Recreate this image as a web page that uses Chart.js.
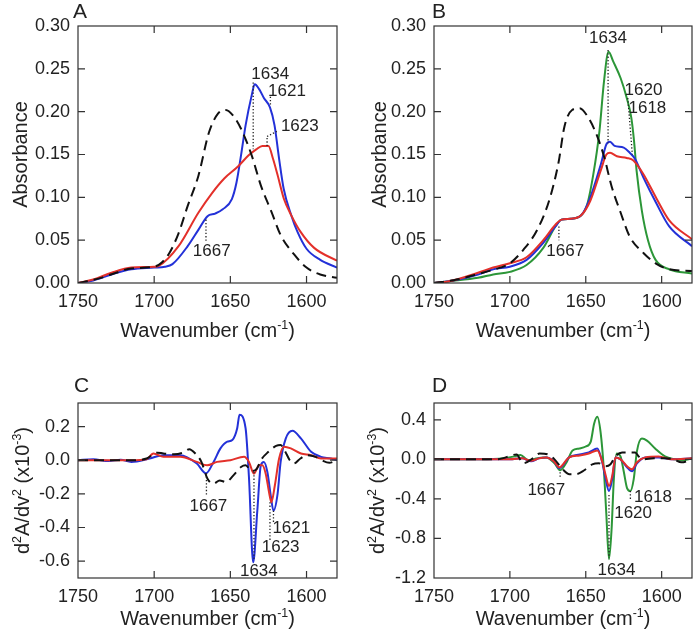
<!DOCTYPE html>
<html>
<head>
<meta charset="utf-8">
<script src="https://cdn.jsdelivr.net/npm/chart.js@4.4.1/dist/chart.umd.min.js"></script>
<style>
  body { margin: 0; background: #fff; }
  #wrap { position: relative; width: 693px; height: 634px; overflow: hidden; }
  canvas { position: absolute; }
</style>
</head>
<body>
<div id="wrap">
  <canvas id="chartA" width="345" height="350" style="left:0;top:0"></canvas>
  <canvas id="chartB" width="348" height="350" style="left:345px;top:0"></canvas>
  <canvas id="chartC" width="345" height="284" style="left:0;top:350px"></canvas>
  <canvas id="chartD" width="348" height="284" style="left:345px;top:350px"></canvas>
</div>
<script>
// ---- data (wavenumber in cm-1) ----
// A: absorbance
var aBlackX = [1750,1735,1725,1715,1700,1695,1690,1684,1678,1671,1664,1658,1653,1648,1643,1636,1630,1623,1617,1608,1600,1591,1580];
var aBlackY = [0,0.006,0.012,0.017,0.019,0.024,0.035,0.058,0.09,0.125,0.176,0.198,0.202,0.195,0.18,0.149,0.114,0.083,0.056,0.033,0.018,0.01,0.006];
var aBlueX = [1750,1740,1728,1715,1700,1693,1688,1678,1671,1665,1660,1655,1649,1646,1643,1640,1636,1634,1631,1628,1624,1621,1618,1615,1610,1606,1600,1591,1580];
var aBlueY = [0,0.003,0.01,0.016,0.018,0.019,0.022,0.043,0.062,0.078,0.081,0.086,0.098,0.117,0.149,0.184,0.219,0.232,0.226,0.216,0.205,0.184,0.145,0.11,0.079,0.06,0.04,0.027,0.018];
var aRedX = [1750,1740,1728,1715,1700,1697,1684,1671,1662,1654,1645,1638,1633,1629,1625,1622,1619,1615,1610,1604,1595,1580];
var aRedY = [0,0.004,0.012,0.018,0.019,0.02,0.043,0.082,0.105,0.122,0.136,0.149,0.156,0.16,0.16,0.145,0.126,0.099,0.079,0.06,0.041,0.026];

// B: absorbance
var bBlackX = [1750,1735,1720,1710,1700,1691,1682,1674,1668,1664,1659,1654,1649,1644,1638,1633,1627,1621,1612,1604,1595,1580];
var bBlackY = [0,0.004,0.011,0.016,0.023,0.039,0.062,0.097,0.14,0.183,0.202,0.204,0.195,0.178,0.148,0.113,0.082,0.054,0.035,0.023,0.016,0.014];
var bGreenX = [1750,1740,1721,1711,1700,1689,1678,1670,1666,1660,1653,1649,1645,1641,1638,1635,1632,1627,1623,1620,1618.2,1616.5,1613,1609,1604,1595,1580];
var bGreenY = [0,0.002,0.006,0.01,0.013,0.021,0.041,0.066,0.074,0.075,0.079,0.092,0.127,0.177,0.235,0.27,0.259,0.239,0.216,0.193,0.166,0.131,0.084,0.05,0.027,0.016,0.011];
var bBlueX = [1750,1740,1721,1711,1700,1689,1678,1670,1666,1660,1653,1647,1640,1636.4,1634,1631,1625,1621,1617.6,1612,1603.5,1595,1580];
var bBlueY = [0,0.002,0.01,0.016,0.019,0.027,0.047,0.066,0.074,0.075,0.079,0.1,0.139,0.162,0.165,0.16,0.158,0.152,0.145,0.123,0.093,0.066,0.043];
var bRedX = [1750,1740,1721,1711,1700,1689,1678,1670,1666,1660,1653,1647,1640,1636.4,1634,1629.5,1623,1618.6,1612,1603.5,1595,1580];
var bRedY = [0,0.002,0.012,0.018,0.023,0.03,0.05,0.068,0.074,0.075,0.079,0.096,0.132,0.15,0.152,0.148,0.146,0.143,0.127,0.099,0.073,0.051];

// C: second derivative (x10^-3)
var cBlackX = [1750,1715,1705,1698,1694,1687,1681,1677,1673,1669,1665,1661,1657,1653,1648,1643,1640,1636,1632.5,1630,1625,1620,1617,1614.5,1611,1608.5,1604,1600,1594,1590,1585,1580];
var cBlackY = [0,0,0.01,0.045,0.04,0.035,0.045,0.065,0.04,-0.01,-0.11,-0.14,-0.12,-0.13,-0.09,-0.04,-0.03,-0.065,-0.05,0,0.05,0.085,0.09,0.06,0,-0.02,0.01,0.03,0.02,0,-0.015,0];
var cBlueX = [1750,1740,1730,1722,1715,1703,1694,1683,1672,1666,1661,1656.5,1652,1648.7,1645.5,1644,1640,1637.8,1635,1632.3,1630,1628,1625.7,1623.5,1621.7,1619,1617,1613.6,1609.2,1603.7,1597,1590.5,1584,1580];
var cBlueY = [0,0.005,-0.005,0.003,-0.01,0.01,0.03,0.03,-0.02,-0.078,-0.01,0.07,0.11,0.12,0.19,0.27,0.19,-0.1,-0.607,-0.3,-0.03,-0.01,-0.07,-0.21,-0.3,-0.2,-0.01,0.13,0.175,0.13,0.05,0.02,0.01,0];
var cRedX = [1750,1730,1715,1705,1700.5,1694,1683,1672,1665.3,1658.7,1650,1641,1637.8,1634.5,1631.2,1629,1626.8,1624.6,1623.1,1620.8,1618,1614.7,1610.3,1603.7,1597,1590.5,1580];
var cRedY = [0,0,0,0.005,0.04,0.02,0.02,-0.01,-0.03,-0.01,0,0.02,-0.01,-0.08,-0.03,-0.03,-0.08,-0.19,-0.25,-0.15,0.01,0.08,0.07,0.04,0.03,0.01,0.01];

// D: second derivative (x10^-3)
var dBlackX = [1750,1710,1705,1699,1695.6,1691.3,1684.8,1680.4,1675,1670.6,1665.2,1660.8,1656.5,1651,1645.7,1641.3,1637,1633.7,1630.5,1626,1621.7,1617.4,1615.2,1612,1605,1598,1592,1587,1580];
var dBlackY = [0,0,0.01,0.04,0.05,-0.04,0.01,0.06,0.05,0,-0.1,-0.15,-0.15,-0.11,-0.05,-0.04,-0.07,-0.05,0.03,0.07,0.07,0.07,0.03,0,0.01,0.01,0,-0.03,0];
var dBlueX = [1750,1720,1700,1692,1686,1681,1676,1671,1667.4,1661,1654,1648,1642.4,1639,1636.9,1634.7,1632.6,1630.4,1627,1622.8,1619.5,1616.3,1610.8,1602,1593.4,1580];
var dBlueY = [0,0,0,0.01,-0.02,0.01,0.02,-0.02,-0.09,0.02,0.05,0.07,0.11,-0.04,-0.2,-0.32,-0.2,0.02,0,-0.08,-0.12,-0.04,0.02,0.02,0,0.01];
var dRedY = [0,0,0,0.01,-0.015,0.01,0.02,-0.02,-0.08,0.02,0.04,0.06,0.09,-0.03,-0.16,-0.27,-0.17,0.02,0,-0.07,-0.1,-0.03,0.02,0.03,0,0.01];
var dGreenX = [1750,1720,1704,1697,1693,1689,1686,1682.7,1676,1670.6,1666.9,1663,1658.7,1654.3,1650,1646.7,1644.5,1642.4,1640.2,1638.1,1636.5,1634.7,1633,1631.5,1629.7,1627.1,1625,1622.8,1620.6,1618.4,1616.3,1613,1609.7,1604.3,1597.8,1591.3,1587,1580];
var dGreenY = [0,0,0.01,0.03,0.045,0,-0.01,0.01,0.02,-0.04,-0.11,-0.04,0.09,0.11,0.13,0.18,0.36,0.43,0.27,-0.1,-0.54,-1.01,-0.71,-0.2,0.06,0.03,-0.12,-0.29,-0.32,-0.2,0.08,0.21,0.19,0.11,0.03,0,-0.01,0.01];

var xTicks = [1750, 1700, 1650, 1600];
var absTicks = [0, 0.05, 0.10, 0.15, 0.20, 0.25, 0.30];
var cTicks = [-0.6, -0.4, -0.2, 0, 0.2];
var dTicks = [-1.2, -0.8, -0.4, 0, 0.4];

var FONT = "'Liberation Sans', Arial, sans-serif";
var INK = "#222";
var BLUE = "#2331d8", RED = "#e3302a", GREEN = "#2c9638";

function pts(xs, ys) {
  return xs.map(function (x, i) { return { x: x, y: ys[i] }; });
}

function partsWidth(ctx, parts, size) {
  var w = 0;
  parts.forEach(function (p) {
    ctx.font = (p[1] ? size * 0.62 : size) + "px " + FONT;
    w += ctx.measureText(p[0]).width;
  });
  return w;
}
function drawParts(ctx, parts, cx, base, size) {
  var x = cx - partsWidth(ctx, parts, size) / 2;
  ctx.textAlign = "left";
  ctx.textBaseline = "alphabetic";
  parts.forEach(function (p) {
    ctx.font = (p[1] ? size * 0.62 : size) + "px " + FONT;
    ctx.fillText(p[0], x, base - (p[1] ? size * 0.42 : 0));
    x += ctx.measureText(p[0]).width;
  });
}

var xTitle = [["Wavenumber (cm"], ["-1", 1], [")"]];
var absTitle = [["Absorbance"]];
var derTitle = [["d"], ["2", 1], ["A/dv"], ["2", 1], [" (x10"], ["-3", 1], [")"]];

// frame, inner ticks, titles, peak labels
function decor(cfg) {
  return {
    id: "decor",
    afterDatasetsDraw: function (chart) {
      var ctx = chart.ctx, a = chart.chartArea, sx = chart.scales.x, sy = chart.scales.y;
      ctx.save();
      ctx.strokeStyle = INK;
      ctx.lineWidth = 1.3;
      ctx.setLineDash([1.3, 2]);
      cfg.notes.forEach(function (n) {
        (n.lines || []).forEach(function (l) {
          ctx.beginPath();
          ctx.moveTo(sx.getPixelForValue(l[0]), sy.getPixelForValue(l[1]));
          ctx.lineTo(sx.getPixelForValue(l[2]), sy.getPixelForValue(l[3]));
          ctx.stroke();
        });
      });
      ctx.setLineDash([]);
      ctx.fillStyle = INK;
      ctx.font = "17px " + FONT;
      ctx.textAlign = "center";
      ctx.textBaseline = "alphabetic";
      cfg.notes.forEach(function (n) {
        ctx.fillText(n.text, sx.getPixelForValue(n.w), sy.getPixelForValue(n.v));
      });

      ctx.strokeStyle = "#333";
      ctx.lineWidth = 1.2;
      ctx.strokeRect(a.left, a.top, a.right - a.left, a.bottom - a.top);
      var tl = 7;
      ctx.beginPath();
      xTicks.forEach(function (v) {
        var px = sx.getPixelForValue(v);
        if (px <= a.left + 1 || px >= a.right - 1) return;
        ctx.moveTo(px, a.top); ctx.lineTo(px, a.top + tl);
        ctx.moveTo(px, a.bottom); ctx.lineTo(px, a.bottom - tl);
      });
      cfg.yTicks.forEach(function (v) {
        var py = sy.getPixelForValue(v);
        if (py <= a.top + 1 || py >= a.bottom - 1) return;
        ctx.moveTo(a.left, py); ctx.lineTo(a.left + tl, py);
        ctx.moveTo(a.right, py); ctx.lineTo(a.right - tl, py);
      });
      ctx.stroke();

      ctx.fillStyle = INK;
      drawParts(ctx, xTitle, (a.left + a.right) / 2, cfg.xTitleBase, 20);
      ctx.save();
      ctx.translate(cfg.yTitleX, (a.top + a.bottom) / 2);
      ctx.rotate(-Math.PI / 2);
      drawParts(ctx, cfg.yTitle, 0, 7.2, 20);
      ctx.restore();
      ctx.font = "21px " + FONT;
      ctx.textAlign = "left";
      ctx.fillText(cfg.letter, cfg.letterX, cfg.letterBase);
      ctx.restore();
    }
  };
}

function makeChart(id, cfg) {
  new Chart(id, {
    type: "line",
    data: {
      datasets: cfg.series.map(function (s) {
        return {
          data: pts(s.x, s.y),
          borderColor: s.color,
          borderWidth: 2,
          borderDash: s.dash || [],
          pointRadius: 0,
          cubicInterpolationMode: "monotone",
          fill: false
        };
      })
    },
    options: {
      responsive: false,
      animation: false,
      layout: { padding: { top: cfg.top, right: cfg.right, left: 0, bottom: 0 } },
      plugins: { legend: { display: false }, tooltip: { enabled: false } },
      scales: {
        x: {
          type: "linear", reverse: true, min: 1580, max: 1750,
          grid: { display: false, drawTicks: false }, border: { display: false },
          afterBuildTicks: function (s) { s.ticks = xTicks.map(function (v) { return { value: v }; }); },
          afterFit: function (s) { s.height = cfg.xh; },
          ticks: {
            font: { family: FONT, size: 18 }, color: INK, padding: 8, maxRotation: 0,
            callback: function (v) { return String(v); }
          }
        },
        y: {
          type: "linear", min: cfg.ymin, max: cfg.ymax,
          grid: { display: false, drawTicks: false }, border: { display: false },
          afterBuildTicks: function (s) { s.ticks = cfg.yTicks.map(function (v) { return { value: v }; }); },
          afterFit: function (s) { s.width = cfg.yw; },
          ticks: {
            font: { family: FONT, size: 18 }, color: INK, padding: 8,
            callback: function (v) { return Number(v).toFixed(cfg.dec); }
          }
        }
      }
    },
    plugins: [decor(cfg)]
  });
}

makeChart("chartA", {
  series: [
    { x: aBlackX, y: aBlackY, color: "#111", dash: [10, 6] },
    { x: aRedX, y: aRedY, color: RED },
    { x: aBlueX, y: aBlueY, color: BLUE }
  ],
  ymin: 0, ymax: 0.30, yTicks: absTicks, dec: 2,
  top: 26, right: 8, yw: 78, xh: 67,
  xTitleBase: 337, yTitle: absTitle, yTitleX: 19.5, letter: "A", letterX: 73, letterBase: 18,
  notes: [
    { text: "1634", w: 1623.8, v: 0.238, lines: [[1635, 0.234, 1635, 0.156]] },
    { text: "1621", w: 1612.8, v: 0.218, lines: [[1623.7, 0.2175, 1623.7, 0.206]] },
    { text: "1623", w: 1604.4, v: 0.177, lines: [[1625.9, 0.16, 1625.9, 0.171], [1625.9, 0.171, 1619.5, 0.177]] },
    { text: "1667", w: 1662.2, v: 0.031, lines: [[1666, 0.074, 1666, 0.049]] }
  ]
});

makeChart("chartB", {
  series: [
    { x: bBlackX, y: bBlackY, color: "#111", dash: [10, 6] },
    { x: bRedX, y: bRedY, color: RED },
    { x: bBlueX, y: bBlueY, color: BLUE },
    { x: bGreenX, y: bGreenY, color: GREEN }
  ],
  ymin: 0, ymax: 0.30, yTicks: absTicks, dec: 2,
  top: 26, right: 1, yw: 89, xh: 67,
  xTitleBase: 337, yTitle: absTitle, yTitleX: 34, letter: "B", letterX: 87, letterBase: 18,
  notes: [
    { text: "1634", w: 1635.4, v: 0.28, lines: [[1635.3, 0.272, 1635.3, 0.163]] },
    { text: "1620", w: 1612, v: 0.22, lines: [[1622.3, 0.216, 1619.3, 0.15]] },
    { text: "1618", w: 1609.4, v: 0.198 },
    { text: "1667", w: 1663.5, v: 0.031, lines: [[1667.7, 0.066, 1667.7, 0.05]] }
  ]
});

makeChart("chartC", {
  series: [
    { x: cBlackX, y: cBlackY, color: "#111", dash: [10, 6] },
    { x: cRedX, y: cRedY, color: RED },
    { x: cBlueX, y: cBlueY, color: BLUE }
  ],
  ymin: -0.70, ymax: 0.34, yTicks: cTicks, dec: 1,
  top: 53, right: 8, yw: 78, xh: 56,
  xTitleBase: 275, yTitle: derTitle, yTitleX: 22, letter: "C", letterX: 74, letterBase: 42,
  notes: [
    { text: "1667", w: 1664.4, v: -0.30, lines: [[1665.7, -0.078, 1665.7, -0.21]] },
    { text: "1634", w: 1631.3, v: -0.686, lines: [[1634.5, -0.07, 1634.5, -0.585]] },
    { text: "1623", w: 1617, v: -0.547, lines: [[1624, -0.25, 1624, -0.477]] },
    { text: "1621", w: 1610, v: -0.43, lines: [[1621.7, -0.3, 1621.7, -0.37]] }
  ]
});

makeChart("chartD", {
  series: [
    { x: dBlackX, y: dBlackY, color: "#111", dash: [10, 6] },
    { x: dBlueX, y: dRedY, color: RED },
    { x: dBlueX, y: dBlueY, color: BLUE },
    { x: dGreenX, y: dGreenY, color: GREEN }
  ],
  ymin: -1.2, ymax: 0.57, yTicks: dTicks, dec: 1,
  top: 53, right: 1, yw: 89, xh: 56,
  xTitleBase: 275, yTitle: derTitle, yTitleX: 32, letter: "D", letterX: 87, letterBase: 42,
  notes: [
    { text: "1667", w: 1676, v: -0.36, lines: [[1666.9, -0.13, 1666.9, -0.19]] },
    { text: "1634", w: 1629.8, v: -1.17, lines: [[1634.7, -0.36, 1634.7, -1.0]] },
    { text: "1620", w: 1618.8, v: -0.59 },
    { text: "1618", w: 1605.7, v: -0.43, lines: [[1620.6, -0.32, 1620.6, -0.41]] }
  ]
});
</script>
</body>
</html>
